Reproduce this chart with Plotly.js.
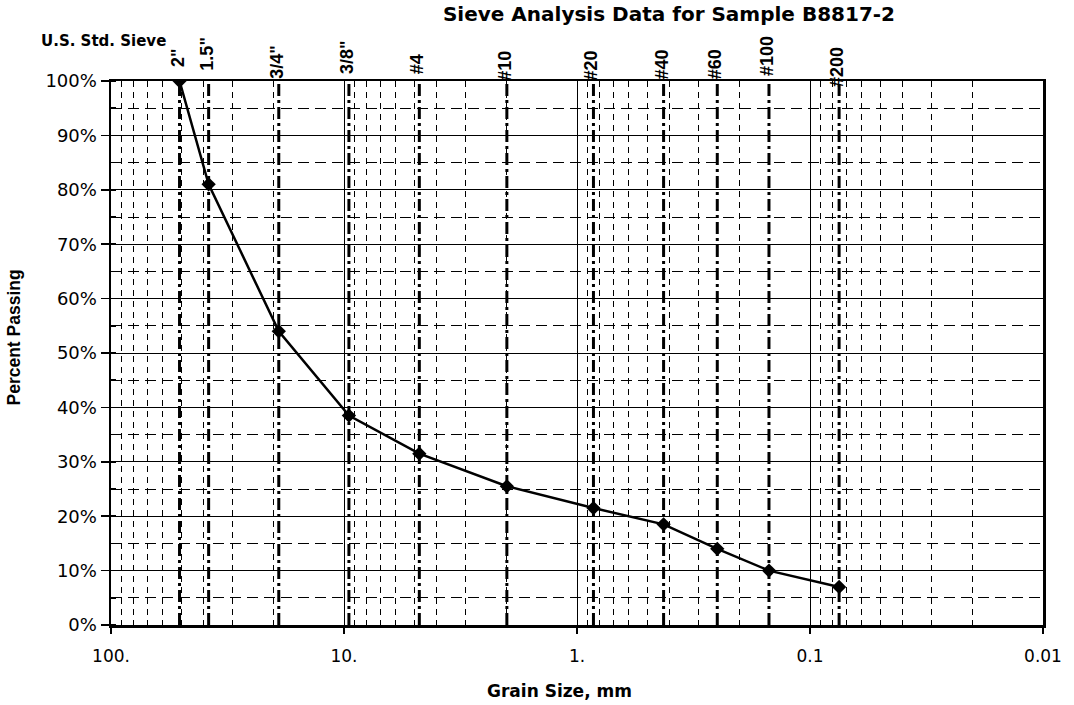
<!DOCTYPE html>
<html>
<head>
<meta charset="utf-8">
<script src="https://cdn.plot.ly/plotly-3.0.1.min.js"></script>
<style>html,body{margin:0;padding:0;background:#fff;}#chart{width:1074px;height:705px;}</style>
</head>
<body>
<div id="chart"></div>
<script>
// ---- data ----
const sieveNames = ['2"', '1.5"', '3/4"', '3/8"', '#4', '#10', '#20', '#40', '#60', '#100', '#200'];
const sieveSizesMm = [50.8, 38.1, 19.05, 9.525, 4.75, 2.0, 0.85, 0.425, 0.25, 0.15, 0.075];
const percentPassing = [100, 81, 54, 38.5, 31.5, 25.5, 21.5, 18.5, 14, 10, 7];
const xTickVals = [100, 10, 1, 0.1, 0.01];
const xTickText = ['100.', '10.', '1.', '0.1', '0.01'];

// ---- layout helpers (style only) ----
const labelYShift = [12, 8, 0, 5, 5, -2, -1, -1, 0, 3, -8];
const minorX = [];
[10, 1, 0.1, 0.01].forEach(d => { for (let k = 2; k <= 9; k++) minorX.push(+(d * k).toPrecision(3)); });

const ARIAL = 'Arial, "Liberation Sans", sans-serif';
const WIDE = '"DejaVu Sans", Arial, sans-serif';

const traces = [];
sieveSizesMm.forEach((s) => {
  traces.push({
    x: [s, s], y: [0, 100], mode: 'lines', hoverinfo: 'skip', showlegend: false,
    line: {color: '#000', width: 3, dash: '12px,4px,3px,4px'}
  });
});
traces.push({
  x: sieveSizesMm, y: percentPassing, mode: 'lines+markers', showlegend: false,
  line: {color: '#000', width: 2.5},
  marker: {symbol: 'diamond', size: 11, color: '#000'}
});

const annotations = sieveNames.map((n, i) => ({
  text: n, xref: 'x', yref: 'paper', x: Math.log10(sieveSizesMm[i]), y: 1,
  xanchor: 'center', yanchor: 'bottom', textangle: -90, showarrow: false,
  xshift: -2, yshift: labelYShift[i],
  font: {family: ARIAL, size: 18, color: '#000', weight: 'bold'}
}));
annotations.push({
  text: 'U.S. Std. Sieve', xref: 'paper', yref: 'paper', x: -0.077, y: 1.073,
  xanchor: 'left', yanchor: 'middle', showarrow: false,
  font: {family: WIDE, size: 15, color: '#000', weight: 'bold'}
});
// axis titles
annotations.push({
  text: 'Grain Size, mm', xref: 'paper', yref: 'paper', x: (559 - 111) / 932, y: (625 - 691) / 545,
  xanchor: 'center', yanchor: 'middle', showarrow: false,
  font: {family: WIDE, size: 17, color: '#000', weight: 'bold'}
});
annotations.push({
  text: 'Percent Passing', xref: 'paper', yref: 'paper', x: (14 - 111) / 932, y: (625 - 337) / 545,
  xanchor: 'center', yanchor: 'middle', textangle: -90, showarrow: false,
  font: {family: ARIAL, size: 17.5, color: '#000', weight: 'bold'}
});

const layout = {
  width: 1074, height: 705,
  margin: {l: 111, r: 31, t: 81, b: 80},
  paper_bgcolor: '#fff', plot_bgcolor: '#fff',
  showlegend: false,
  font: {family: WIDE, color: '#000'},
  title: {
    text: 'Sieve Analysis Data for Sample B8817-2',
    x: 669 / 1074, xanchor: 'center', xref: 'container',
    y: 0.98, yanchor: 'middle', yref: 'container',
    font: {family: WIDE, size: 20, color: '#000', weight: 'bold'}
  },
  xaxis: {
    type: 'log', range: [2, -2], autorange: false,
    tickmode: 'array', tickvals: xTickVals, ticktext: xTickText,
    tickfont: {family: WIDE, size: 17, color: '#000'},
    ticks: 'outside', ticklen: 6, tickwidth: 1.5, tickcolor: '#000',
    ticklabelstandoff: 8,
    showgrid: true, gridcolor: '#000', gridwidth: 1,
    showline: true, linecolor: '#000', linewidth: 2.5, mirror: true,
    zeroline: false,
    minor: {tickmode: 'array', tickvals: minorX, showgrid: true, gridcolor: '#000', gridwidth: 1, griddash: '6px,5px', ticks: ''}
  },
  yaxis: {
    range: [0, 100], autorange: false, dtick: 10, tick0: 0, ticksuffix: '%',
    tickfont: {family: WIDE, size: 18, color: '#000'},
    ticks: 'outside', ticklen: 8, tickwidth: 1.5, tickcolor: '#000',
    showgrid: true, gridcolor: '#000', gridwidth: 1,
    showline: true, linecolor: '#000', linewidth: 2.5, mirror: true,
    zeroline: false,
    minor: {dtick: 5, tick0: 0, showgrid: true, gridcolor: '#000', gridwidth: 1, griddash: '11px,6px', ticks: 'inside', ticklen: 5, tickcolor: '#000'}
  },
  annotations: annotations
};

Plotly.newPlot('chart', traces, layout, {displayModeBar: false, staticPlot: true});
</script>
</body>
</html>
